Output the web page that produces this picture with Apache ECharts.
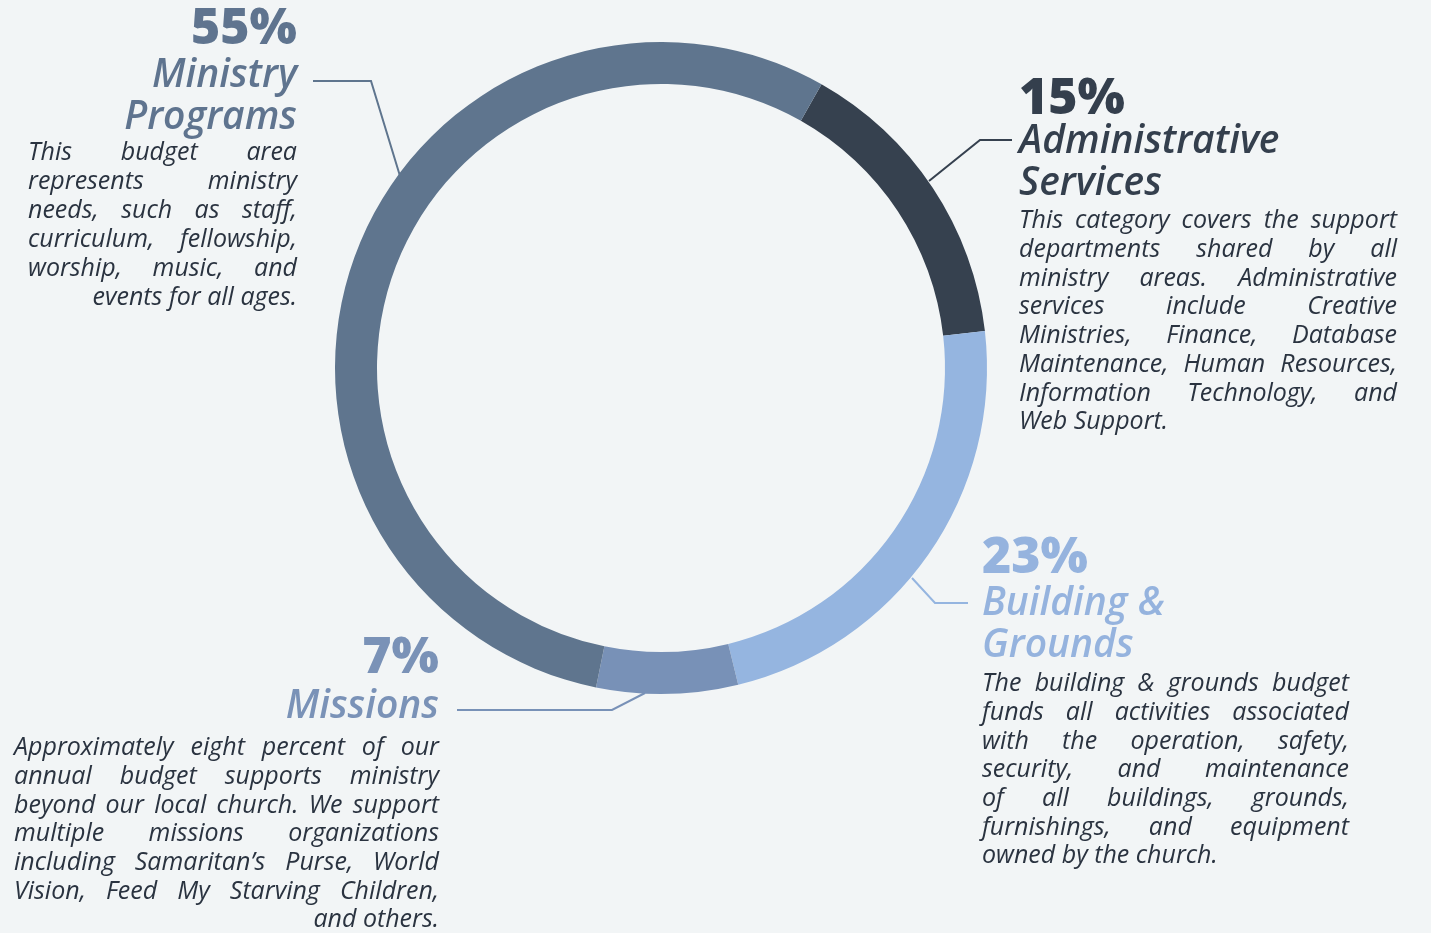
<!DOCTYPE html>
<html><head><meta charset="utf-8">
<script src="https://cdn.jsdelivr.net/npm/echarts@6/dist/echarts.min.js"></script>
<style>html,body{margin:0;padding:0;background:#f2f5f6;overflow:hidden}#c{width:1431px;height:933px}</style>
</head><body><div id="c"></div>
<script>
// ---- data ----
const categories = ['Administrative Services', 'Building & Grounds', 'Missions', 'Ministry Programs'];
const values = [15, 23, 7, 55];
const titleLines = [['Administrative', 'Services'], ['Building &', 'Grounds'], ['Missions'], ['Ministry', 'Programs']];
const descAdmin = [
  'This category covers the support',
  'departments shared by all',
  'ministry areas. Administrative',
  'services include Creative',
  'Ministries, Finance, Database',
  'Maintenance, Human Resources,',
  'Information Technology, and',
  'Web Support.'
];
const descBuilding = [
  'The building & grounds budget',
  'funds all activities associated',
  'with the operation, safety,',
  'security, and maintenance',
  'of all buildings, grounds,',
  'furnishings, and equipment',
  'owned by the church.'
];
const descMissions = [
  'Approximately eight percent of our',
  'annual budget supports ministry',
  'beyond our local church. We support',
  'multiple missions organizations',
  'including Samaritan\u2019s Purse, World',
  'Vision, Feed My Starving Children,',
  'and others.'
];
const descMinistry = [
  'This budget area',
  'represents ministry',
  'needs, such as staff,',
  'curriculum, fellowship,',
  'worship, music, and',
  'events for all ages.'
];
const descriptions = [descAdmin, descBuilding, descMissions, descMinistry];

// ---- styles / layout ----
const sliceColors = ['#36414f', '#95b5e0', '#7891b7', '#5f758e'];
const headColors = ['#343f4d', '#95b3de', '#7a92b7', '#5f748f'];
const bodyColor = '#2a3340';
const FONT = '"Open Sans", "DejaVu Sans", sans-serif';
const layout = [
  {anchor: 'left', x: 1019, w: 378, pctY: 100, titleY: 142, bodyY: 221, step: 28.75, last: 'left',
   line: [[1012, 140], [980, 140], [929, 181]]},
  {anchor: 'left', x: 982, w: 367, pctY: 559, titleY: 604, bodyY: 684, step: 28.7, last: 'left',
   line: [[968, 603], [935, 603], [912, 578]]},
  {anchor: 'right', x: 14, w: 425, pctY: 659, titleY: 707, bodyY: 748, step: 28.7, last: 'right',
   line: [[457, 710], [612, 710], [645, 693]]},
  {anchor: 'right', x: 28, w: 269, pctY: 30, titleY: 76, bodyY: 153, step: 29, last: 'right',
   line: [[313, 81], [371, 81], [400, 176]]}
];
const PCT_FS = 50, TITLE_FS = 39, TITLE_STEP = 42, BODY_FS = 25;

const mctx = document.createElement('canvas').getContext('2d');
function measure(t, fs, weight, style) {
  mctx.font = (style || 'italic') + ' ' + (weight || 'normal') + ' ' + fs + 'px ' + FONT;
  return mctx.measureText(t).width;
}

const graphic = [];
function txt(x, y, text, o) {
  graphic.push({
    type: 'text', x: x, y: y, silent: true,
    style: {
      text: text, fill: o.fill, fontSize: o.fs, fontFamily: FONT,
      fontStyle: o.style || 'normal', fontWeight: o.weight || 'normal',
      align: o.align || 'left', verticalAlign: 'middle'
    }
  });
}

layout.forEach((L, i) => {
  const right = L.x + L.w;
  const hx = L.anchor === 'left' ? L.x : right;
  txt(hx, L.pctY, values[i] + '%', {fill: headColors[i], fs: PCT_FS, weight: 800, align: L.anchor});
  titleLines[i].forEach((t, j) => {
    txt(hx, L.titleY + j * TITLE_STEP, t, {fill: headColors[i], fs: TITLE_FS, weight: 600, style: 'italic', align: L.anchor});
  });
  const lines = descriptions[i];
  lines.forEach((ln, j) => {
    const y = L.bodyY + j * L.step;
    if (j === lines.length - 1) {
      txt(L.last === 'right' ? right : L.x, y, ln, {fill: bodyColor, fs: BODY_FS, style: 'italic', align: L.last});
      return;
    }
    const words = ln.split(' ');
    let fs = BODY_FS;
    let ws = words.map(w => measure(w, fs));
    let S = ws.reduce((a, b) => a + b, 0);
    const n = words.length;
    const minGap = fs * 0.2;
    if (S + minGap * (n - 1) > L.w) {
      fs = fs * (L.w - minGap * (n - 1)) / S;
      ws = words.map(w => measure(w, fs));
      S = ws.reduce((a, b) => a + b, 0);
    }
    const gap = n > 1 ? (L.w - S) / (n - 1) : 0;
    let x = L.x;
    words.forEach((w, k) => {
      txt(x, y, w, {fill: bodyColor, fs: fs, style: 'italic'});
      x += ws[k] + gap;
    });
  });
  graphic.push({
    type: 'polyline', silent: true,
    shape: {points: L.line},
    style: {stroke: sliceColors[i], lineWidth: 2, fill: null}
  });
});

const chart = echarts.init(document.getElementById('c'), null, {renderer: 'canvas'});
chart.setOption({
  backgroundColor: '#f2f5f6',
  animation: false,
  series: [{
    type: 'pie',
    center: [661, 368],
    radius: [284, 326],
    startAngle: 60.5,
    clockwise: true,
    silent: true,
    label: {show: false},
    labelLine: {show: false},
    emphasis: {disabled: true},
    itemStyle: {borderWidth: 0},
    data: categories.map((c, i) => ({name: c, value: values[i], itemStyle: {color: sliceColors[i]}}))
  }],
  graphic: graphic
});
</script>
</body></html>
